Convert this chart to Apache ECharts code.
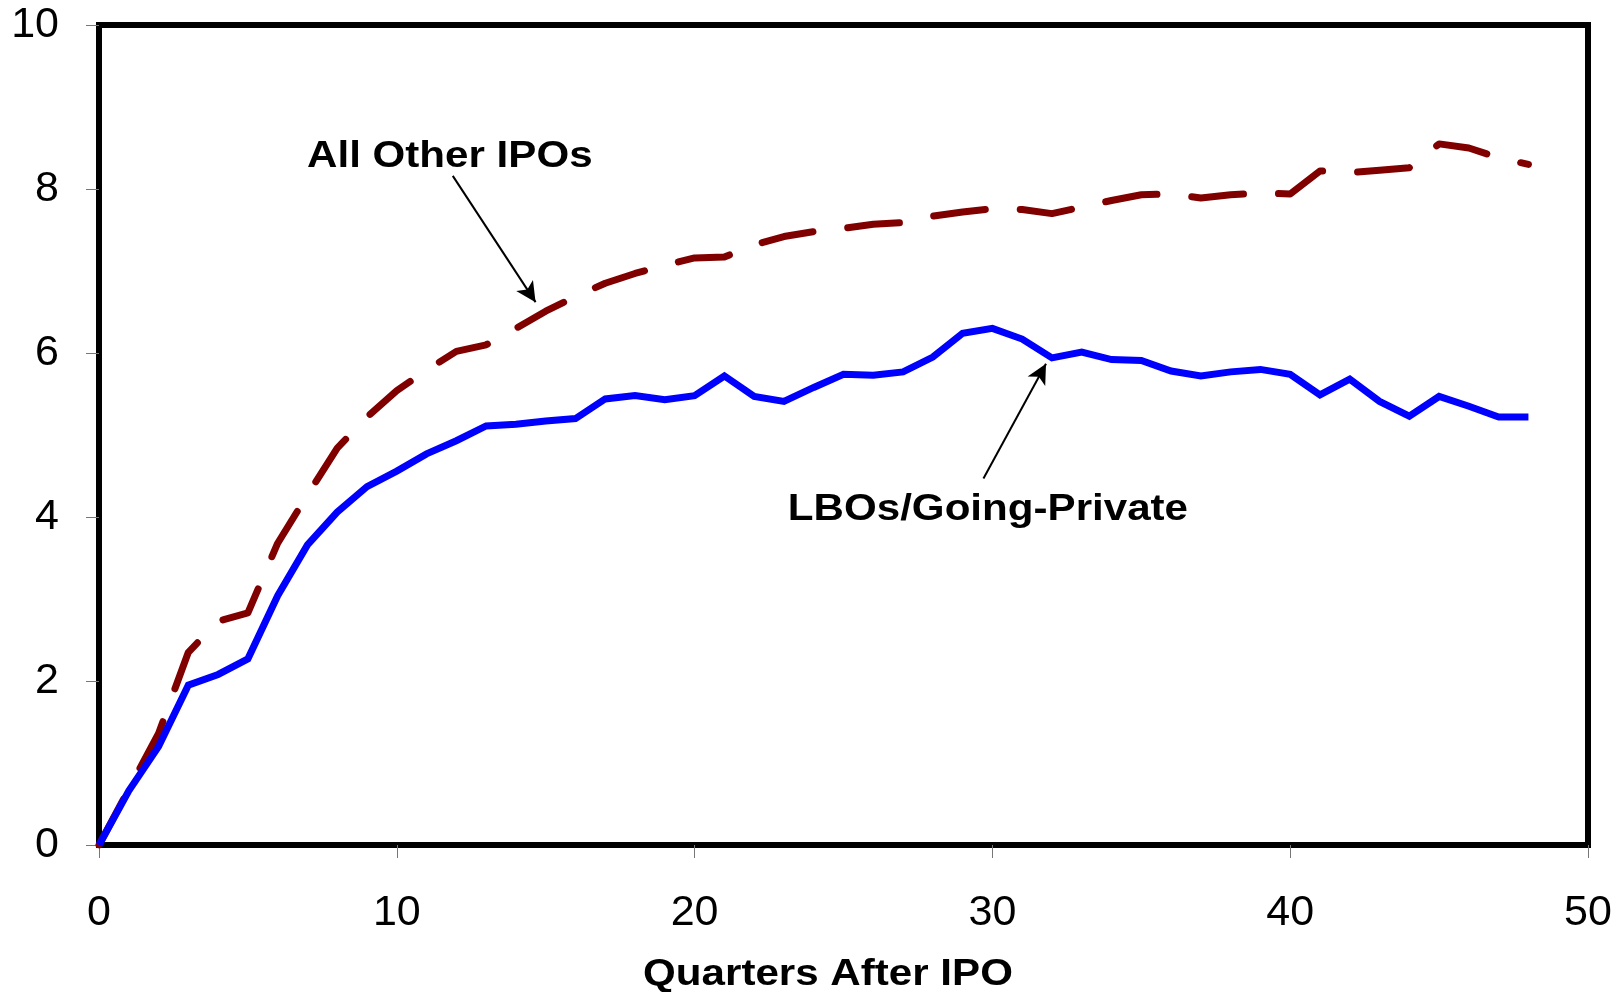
<!DOCTYPE html>
<html>
<head>
<meta charset="utf-8">
<script src="https://cdn.jsdelivr.net/npm/echarts@6/dist/echarts.min.js"></script>
<style>
html,body{margin:0;padding:0;background:#fff;}
#c{width:1623px;height:992px;}
</style>
</head>
<body>
<div id="c"></div>
<script>
// ---- data ----
const quarters = [0,1,2,3,4,5,6,7,8,9,10,11,12,13,14,15,16,17,18,19,20,21,22,23,24,25,26,27,28,29,30,31,32,33,34,35,36,37,38,39,40,41,42,43,44,45,46,47,48];
const allOtherIPOs = [0,0.68,1.36,2.35,2.73,2.83,3.68,4.27,4.84,5.22,5.54,5.79,6.02,6.10,6.30,6.51,6.69,6.85,6.97,7.07,7.16,7.17,7.32,7.42,7.48,7.52,7.57,7.59,7.67,7.72,7.76,7.75,7.70,7.78,7.86,7.93,7.94,7.89,7.93,7.95,7.94,8.22,8.20,8.23,8.26,8.55,8.50,8.38,8.30];
const lbos = [0,0.66,1.20,1.95,2.08,2.27,3.04,3.66,4.06,4.37,4.56,4.77,4.93,5.11,5.13,5.17,5.20,5.44,5.48,5.43,5.48,5.72,5.47,5.41,5.58,5.74,5.73,5.77,5.95,6.24,6.30,6.17,5.94,6.01,5.92,5.91,5.78,5.72,5.77,5.80,5.74,5.49,5.68,5.41,5.23,5.47,5.35,5.22,5.22];
const xTicks = [0,10,20,30,40,50];
const yTicks = [0,2,4,6,8,10];
const seriesNames = ['All Other IPOs','LBOs/Going-Private'];
const xTitle = 'Quarters After IPO';
// annotations in data coordinates
const labelOther = {text:'All Other IPOs', at:[11.78, 8.39]};
const labelLbo = {text:'LBOs/Going-Private', at:[29.85, 4.08]};
const arrowOther = [[11.88, 8.16],[14.66, 6.62]];
const arrowLbo = [[29.7, 4.47],[31.8, 5.87]];

const FONT = '"Liberation Sans", Arial, Helvetica, sans-serif';
const pairs = (ys) => quarters.map((q,i)=>[q, ys[i]]);

const chart = echarts.init(document.getElementById('c'), null, {renderer:'canvas'});
const option = {
  animation:false,
  backgroundColor:'#ffffff',
  grid:{left:99, top:25, right:35, bottom:147, show:true, borderColor:'#000', borderWidth:6, backgroundColor:'transparent'},
  xAxis:{
    type:'value', min:xTicks[0], max:xTicks[xTicks.length-1], interval:10,
    axisLine:{show:false},
    axisTick:{show:true, inside:false, length:13, lineStyle:{color:'#777', width:1}},
    splitLine:{show:false},
    axisLabel:{fontFamily:FONT, fontSize:43, color:'#000', margin:47}
  },
  yAxis:{
    type:'value', min:yTicks[0], max:yTicks[yTicks.length-1], interval:2,
    axisLine:{show:false},
    axisTick:{show:true, inside:false, length:13, lineStyle:{color:'#777', width:1}},
    splitLine:{show:false},
    axisLabel:{fontFamily:FONT, fontSize:43, color:'#000', margin:40}
  },
  series:[
    {
      name:seriesNames[0], type:'line', data:pairs(allOtherIPOs), showSymbol:false, symbol:'none',
      lineStyle:{color:'#800000', width:7, type:[52,35], cap:'round', join:'round'},
      z:2
    },
    {
      name:seriesNames[1], type:'line', data:pairs(lbos), showSymbol:false, symbol:'none',
      lineStyle:{color:'#0000ff', width:7, type:'solid', cap:'butt', join:'miter'},
      z:3
    },
    {
      type:'line', data:[], silent:true, z:4,
      markLine:{
        silent:true, animation:false,
        symbol:['none','arrow'], symbolSize:[15,20],
        label:{show:false},
        lineStyle:{color:'#000', width:2, type:'solid'},
        data:[
          [{coord:arrowOther[0]},{coord:arrowOther[1]}],
          [{coord:arrowLbo[0]},{coord:arrowLbo[1]}]
        ]
      }
    }
  ]
};
chart.setOption(option);

function label(txt, px, py){
  return {type:'text', x:px, y:py, scaleX:1.17, scaleY:1, z:10,
    style:{text:txt, fontFamily:FONT, fontSize:36, fontWeight:'bold', fill:'#000', align:'center', verticalAlign:'middle'}};
}
const p1 = chart.convertToPixel({gridIndex:0}, labelOther.at);
const p2 = chart.convertToPixel({gridIndex:0}, labelLbo.at);
chart.setOption({graphic:[
  label(labelOther.text, p1[0], p1[1]),
  label(labelLbo.text, p2[0], p2[1]),
  label(xTitle, 828, 975)
]});
</script>
</body>
</html>
